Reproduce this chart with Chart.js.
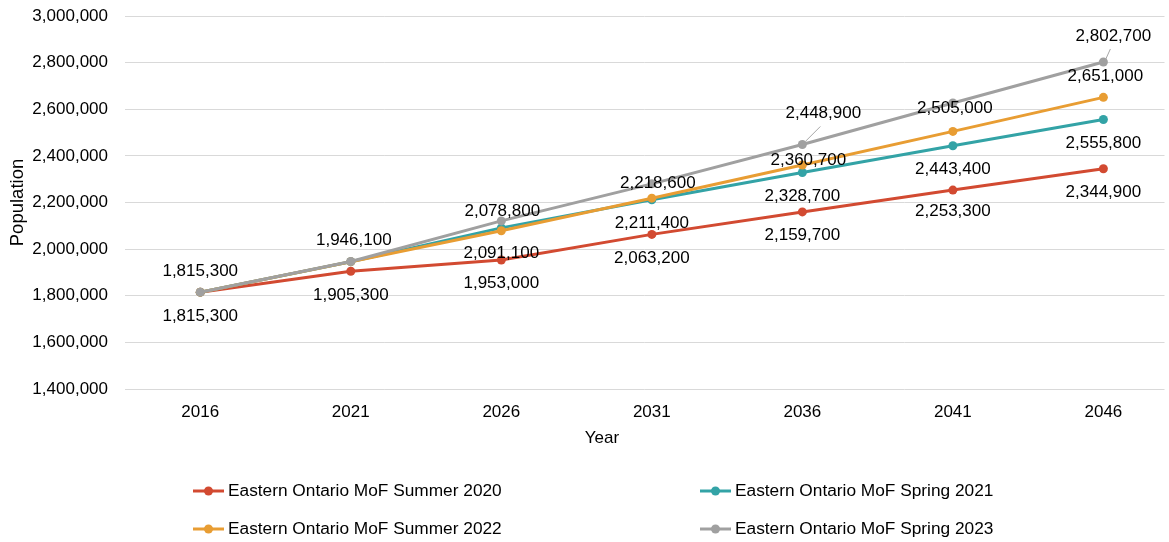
<!DOCTYPE html>
<html>
<head>
<meta charset="utf-8">
<script src="https://cdn.jsdelivr.net/npm/chart.js@4"></script>
<style>
  html, body { margin: 0; padding: 0; background: #ffffff; }
  #wrap { width: 1169px; height: 542px; position: relative; }
</style>
</head>
<body>
<div id="wrap"><canvas id="c" width="1169" height="542"></canvas></div>
<script>
// Projection years (x categories)
const years = [2016, 2021, 2026, 2031, 2036, 2041, 2046];

// Population projections, Eastern Ontario, by Ministry of Finance release
const summer2020 = [1815300, 1905300, 1953000, 2063200, 2159700, 2253300, 2344900];
const spring2021 = [1815300, 1946100, 2091100, 2211400, 2328700, 2443400, 2555800];
const summer2022 = [1815300, 1946100, 2078800, 2218600, 2360700, 2505000, 2651000];
const spring2023 = [1815300, 1947000, 2121000, 2280000, 2448900, 2627000, 2802700];

const seriesNames = [
  'Eastern Ontario MoF Summer 2020',
  'Eastern Ontario MoF Spring 2021',
  'Eastern Ontario MoF Summer 2022',
  'Eastern Ontario MoF Spring 2023'
];

// Y axis tick values
const yTicks = [1400000, 1600000, 1800000, 2000000, 2200000, 2400000, 2600000, 2800000, 3000000];

const colors = ['#D24A31', '#33A3A6', '#E89D33', '#A0A0A0'];
const FONT = "'Liberation Sans', Arial, sans-serif";
const fmt = v => v.toLocaleString('en-US');

// Data-label placement per series: [dx, dy] from the point, null = no label
const labelOffsets = [
  [[0, 24], [0, 24], [0, 23], [0, 24], [0, 23], [0, 21], [0, 24]],
  [null, null, [0, 25], [0, 23], [0, 24], [0, 24], [0, 24]],
  [[0, -21], [3, -21], [1, -19], [6, -15], [6, -5], [2, -23], [2, -21]],
  [null, null, null, null, [21, -31], null, [10, -26]]
];
// Leader lines for the labels pushed away from their point: [x0, y0, x1, y1] from the point
const leaderLines = [
  [null, null, null, null, null, null, null],
  [null, null, null, null, null, null, null],
  [null, null, null, null, null, null, null],
  [null, null, null, null, [3, -3, 18, -18], null, [2, -2, 7, -13]]
];

const seriesValues = [summer2020, spring2021, summer2022, spring2023];

const datasets = seriesValues.map((vals, s) => ({
  label: seriesNames[s],
  data: years.map((yr, i) => ({ x: yr, y: vals[i] })),
  borderColor: colors[s],
  backgroundColor: colors[s],
  borderWidth: 3,
  pointRadius: 4.5,
  pointHoverRadius: 4.5,
  pointBorderWidth: 0,
  tension: 0,
  order: 4 - s
}));

// Scales keep exactly the box sizes given to them
const zeroPad = s => { s.paddingTop = 0; s.paddingBottom = 0; s.paddingLeft = 0; s.paddingRight = 0; };

const labelPlugin = {
  id: 'pointLabels',
  afterDatasetsDraw(chart) {
    const ctx = chart.ctx;
    ctx.save();
    ctx.font = '17px ' + FONT;
    ctx.textAlign = 'center';
    ctx.textBaseline = 'middle';
    seriesValues.forEach((vals, s) => {
      const meta = chart.getDatasetMeta(s);
      vals.forEach((v, i) => {
        const pt = meta.data[i];
        const ll = leaderLines[s][i];
        if (ll) {
          ctx.strokeStyle = '#A6A6A6';
          ctx.lineWidth = 1;
          ctx.beginPath();
          ctx.moveTo(pt.x + ll[0], pt.y + ll[1]);
          ctx.lineTo(pt.x + ll[2], pt.y + ll[3]);
          ctx.stroke();
        }
        const off = labelOffsets[s][i];
        if (!off) return;
        ctx.fillStyle = '#000000';
        ctx.fillText(fmt(v), pt.x + off[0], pt.y + off[1]);
      });
    });
    ctx.restore();
  }
};

const legendPlugin = {
  id: 'gridLegend',
  afterDraw(chart) {
    const ctx = chart.ctx;
    const area = chart.chartArea;
    const cols = [area.left + 68, area.left + 575];
    const rows = [area.bottom + 102, area.bottom + 140];
    ctx.save();
    ctx.font = '17.3px ' + FONT;
    ctx.textBaseline = 'middle';
    ctx.textAlign = 'left';
    chart.data.datasets.forEach((ds, i) => {
      const x = cols[i % 2];
      const y = rows[Math.floor(i / 2)];
      ctx.strokeStyle = ds.borderColor;
      ctx.lineWidth = 3;
      ctx.beginPath();
      ctx.moveTo(x, y);
      ctx.lineTo(x + 31, y);
      ctx.stroke();
      ctx.fillStyle = ds.borderColor;
      ctx.beginPath();
      ctx.arc(x + 15.5, y, 4.5, 0, Math.PI * 2);
      ctx.fill();
      ctx.fillStyle = '#000000';
      ctx.fillText(ds.label, x + 35, y);
    });
    // x axis title
    ctx.font = '17px ' + FONT;
    ctx.textAlign = 'center';
    ctx.fillText('Year', area.left + 477, area.bottom + 49);
    ctx.restore();
  }
};

new Chart(document.getElementById('c'), {
  type: 'line',
  data: { datasets },
  options: {
    responsive: false,
    animation: false,
    events: [],
    layout: { padding: { top: 16, right: 0, bottom: 0, left: 0 } },
    plugins: { legend: { display: false }, tooltip: { enabled: false } },
    scales: {
      x: {
        type: 'linear',
        min: 2013.5,
        max: 2048.03,
        afterBuildTicks: scale => { scale.ticks = years.map(v => ({ value: v })); },
        afterFit: scale => { scale.height = 153; zeroPad(scale); },
        grid: { display: false, drawTicks: false },
        border: { display: false },
        ticks: {
          padding: 13,
          autoSkip: false,
          maxRotation: 0,
          color: '#000000',
          font: { family: FONT, size: 17 },
          callback: v => String(v)
        }
      },
      y: {
        min: 1400000,
        max: 3000000,
        afterBuildTicks: scale => { scale.ticks = yTicks.map(v => ({ value: v })); },
        afterFit: scale => { scale.width = 125; zeroPad(scale); },
        grid: { color: '#D9D9D9', lineWidth: 1, drawTicks: false },
        border: { display: false },
        title: {
          display: true,
          text: 'Population',
          color: '#000000',
          font: { family: FONT, size: 18.5 },
          padding: { top: 7, bottom: 0 }
        },
        ticks: {
          padding: 17,
          color: '#000000',
          font: { family: FONT, size: 17 },
          callback: v => fmt(v)
        }
      }
    }
  },
  plugins: [labelPlugin, legendPlugin]
});
</script>
</body>
</html>
